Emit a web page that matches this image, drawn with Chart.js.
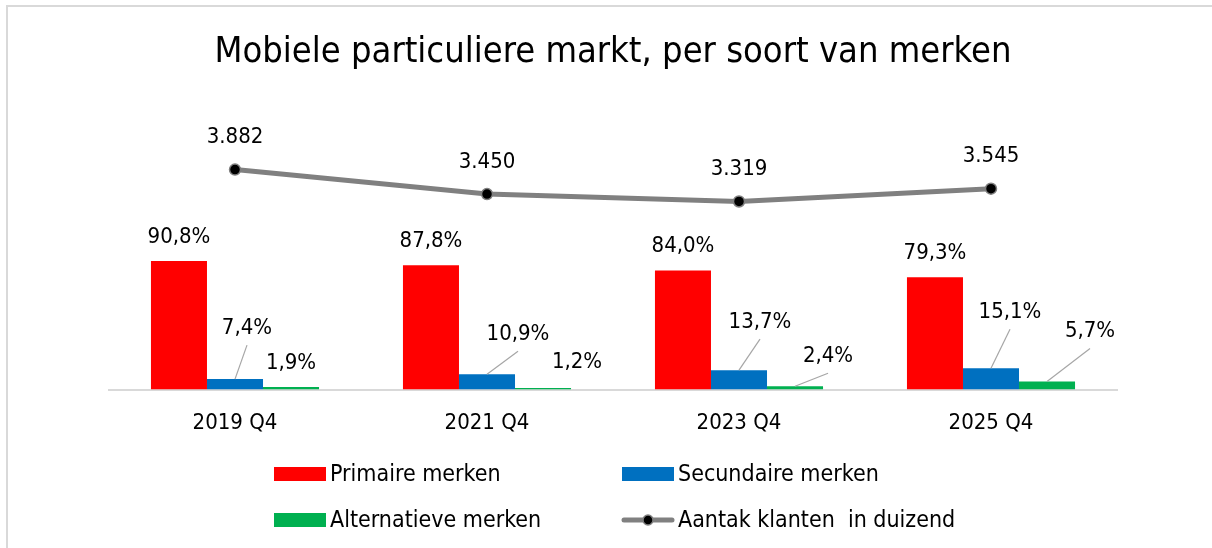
<!DOCTYPE html>
<html>
<head>
<meta charset="utf-8">
<script src="https://cdn.jsdelivr.net/npm/chart.js@4/dist/chart.umd.min.js"></script>
<style>
  html, body { margin: 0; padding: 0; background: #ffffff; overflow: hidden; }
  #wrap { position: relative; width: 1212px; height: 548px; }
</style>
</head>
<body>
<div id="wrap"><canvas id="c" width="1212" height="548"></canvas></div>
<script>
// ---- data ----
const categories = ['2019 Q4', '2021 Q4', '2023 Q4', '2025 Q4'];
const primaireMerken = [90.8, 87.8, 84.0, 79.3];
const secundaireMerken = [7.4, 10.9, 13.7, 15.1];
const alternatieveMerken = [1.9, 1.2, 2.4, 5.7];
const aantalKlanten = [3882, 3450, 3319, 3545];
const seriesNames = ['Primaire merken', 'Secundaire merken', 'Alternatieve merken', 'Aantak klanten  in duizend'];
const chartTitle = 'Mobiele particuliere markt, per soort van merken';

const FONT = "'DejaVu Sans Condensed', 'DejaVu Sans', sans-serif";

// manual label placement (offsets of label centre from the mark), like Excel's moved labels
const labelPlacement = [
  { dx: [0, 0, 0, 0], dy: [-24, -24, -24, -24], leader: [false, false, false, false] },
  { dx: [12, 31, 21, 19], dy: [-51, -40, -48, -56], leader: [true, true, true, true] },
  { dx: [0, 34, 33, 43], dy: [-24, -26, -30, -50], leader: [false, false, true, true] },
  { dx: [0, 0, 0, 0], dy: [-32, -32, -32, -32], leader: [false, false, false, false] }
];

function fmtPct(v) { return v.toFixed(1).replace('.', ',') + '%'; }
function fmtThousands(v) { return String(v).replace(/\B(?=(\d{3})+(?!\d))/g, '.'); }

const framePlugin = {
  id: 'frame',
  beforeDraw(chart) {
    const ctx = chart.ctx;
    ctx.save();
    ctx.strokeStyle = '#d9d9d9';
    ctx.lineWidth = 2;
    ctx.strokeRect(7, 6, 1400, 1000);
    ctx.restore();
  }
};

const labelsPlugin = {
  id: 'valueLabels',
  afterDatasetsDraw(chart) {
    const ctx = chart.ctx;
    ctx.save();
    ctx.font = '22px ' + FONT;
    ctx.fillStyle = '#000000';
    ctx.textAlign = 'center';
    ctx.textBaseline = 'middle';
    chart.data.datasets.forEach((ds, di) => {
      const meta = chart.getDatasetMeta(di);
      const place = labelPlacement[di];
      meta.data.forEach((el, i) => {
        const lx = el.x + place.dx[i];
        const ly = el.y + place.dy[i];
        if (place.leader[i]) {
          ctx.save();
          ctx.strokeStyle = '#a6a6a6';
          ctx.lineWidth = 1.2;
          ctx.beginPath();
          ctx.moveTo(el.x, el.y);
          ctx.lineTo(lx, ly + 17);
          ctx.stroke();
          ctx.restore();
        }
        const txt = ds.type === 'line' ? fmtThousands(ds.data[i]) : fmtPct(ds.data[i]);
        ctx.fillText(txt, lx, ly);
      });
    });
    ctx.restore();
  }
};

const legendPlugin = {
  id: 'gridLegend',
  afterDraw(chart) {
    const ctx = chart.ctx;
    const cols = [274, 622];
    const rows = [474, 520];
    ctx.save();
    ctx.font = '23px ' + FONT;
    ctx.textBaseline = 'middle';
    ctx.textAlign = 'left';
    chart.data.datasets.forEach((ds, i) => {
      const x = cols[i % 2];
      const y = rows[Math.floor(i / 2)];
      if (ds.type === 'line') {
        ctx.strokeStyle = ds.borderColor;
        ctx.lineWidth = 5;
        ctx.lineCap = 'round';
        ctx.beginPath();
        ctx.moveTo(x + 2, y);
        ctx.lineTo(x + 50, y);
        ctx.stroke();
        ctx.beginPath();
        ctx.arc(x + 26, y, 5, 0, Math.PI * 2);
        ctx.fillStyle = ds.pointBackgroundColor;
        ctx.fill();
        ctx.lineWidth = 1.5;
        ctx.strokeStyle = ds.pointBorderColor;
        ctx.stroke();
      } else {
        ctx.fillStyle = ds.backgroundColor;
        ctx.fillRect(x, y - 7, 52, 14);
      }
      ctx.fillStyle = '#000000';
      ctx.fillText(ds.label, x + 56, y + 1);
    });
    ctx.restore();
  }
};

new Chart(document.getElementById('c'), {
  data: {
    labels: categories,
    datasets: [
      { type: 'bar', label: seriesNames[0], data: primaireMerken, yAxisID: 'y', backgroundColor: '#ff0000', order: 1 },
      { type: 'bar', label: seriesNames[1], data: secundaireMerken, yAxisID: 'y', backgroundColor: '#0070c0', order: 1 },
      { type: 'bar', label: seriesNames[2], data: alternatieveMerken, yAxisID: 'y', backgroundColor: '#00b050', order: 1 },
      { type: 'line', label: seriesNames[3], data: aantalKlanten, yAxisID: 'y2',
        borderColor: '#808080', borderWidth: 5, pointRadius: 5.5, pointBackgroundColor: '#000000',
        pointBorderColor: '#7f7f7f', pointBorderWidth: 1.5, tension: 0, order: 0 }
    ]
  },
  options: {
    responsive: false,
    animation: false,
    events: [],
    layout: { padding: { left: 109, right: 95, top: 0, bottom: 92 } },
    datasets: { bar: { categoryPercentage: 0.667, barPercentage: 1.0 } },
    scales: {
      x: {
        grid: { display: false, drawTicks: false },
        border: { display: true, color: '#d9d9d9', width: 2 },
        ticks: { color: '#000000', font: { family: FONT, size: 22 }, padding: 20, maxRotation: 0 }
      },
      y: { display: false, min: 0, max: 200 },
      y2: { display: false, min: 0, max: 5000, position: 'right' }
    },
    plugins: {
      legend: { display: false },
      tooltip: { enabled: false },
      title: {
        display: true, text: chartTitle, color: '#000000',
        font: { family: FONT, size: 36, weight: 'normal' },
        padding: { top: 31, bottom: 32 }
      }
    }
  },
  plugins: [framePlugin, labelsPlugin, legendPlugin]
});
</script>
</body>
</html>
